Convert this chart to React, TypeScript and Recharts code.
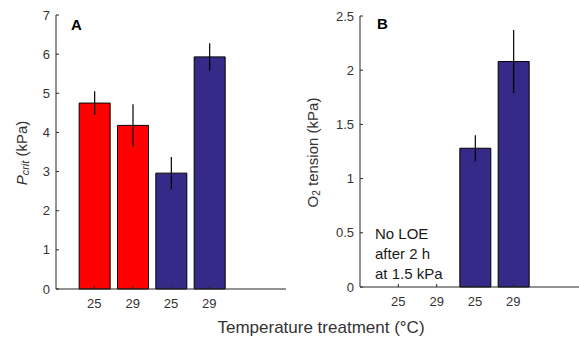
import { BarChart, Bar, XAxis, YAxis, ErrorBar, Cell } from 'recharts';

// panel A: Pcrit
const positionsA = [1, 2, 3, 4];
const pcritValues = [4.75, 4.18, 2.96, 5.93];
const pcritErrors = [0.3, 0.54, 0.41, 0.35];
const barColors = ['#ff0000', '#ff0000', '#352a87', '#352a87'];

// panel B: O2 tension at LOE (only last two groups)
const positionsB = [3, 4];
const o2Values = [1.28, 2.08];
const o2Errors = [0.12, 0.29];
const colorsB = ['#352a87', '#352a87'];

const tickLabels = ['25', '29', '25', '29'];
const yTicksA = [0, 1, 2, 3, 4, 5, 6, 7];
const yTicksB = [0, 0.5, 1, 1.5, 2, 2.5];

const dataA = positionsA.map((x, i) => ({ x, value: pcritValues[i], err: pcritErrors[i] }));
const dataB = positionsB.map((x, i) => ({ x, value: o2Values[i], err: o2Errors[i] }));

const FONT = '"Liberation Sans", Arial, sans-serif';
const AXIS = '#262626';
const tickStyle = { fill: '#333', fontSize: 13, fontFamily: FONT };

const fmtX = (v: number) => tickLabels[v - 1] ?? '';

const PcritLabel = (props: any) => {
  const { viewBox } = props;
  const cx = 21;
  const cy = viewBox.y + viewBox.height / 2 + 1;
  return (
    <text
      x={cx}
      y={cy}
      transform={`rotate(-90, ${cx}, ${cy})`}
      textAnchor="middle"
      dominantBaseline="central"
      fill="#333"
      fontFamily={FONT}
      fontSize={15}
    >
      <tspan fontStyle="italic">P</tspan>
      <tspan fontStyle="italic" fontSize={11} dy={4}>crit</tspan>
      <tspan dy={-4}> (kPa)</tspan>
    </text>
  );
};

const O2Label = (props: any) => {
  const { viewBox } = props;
  const cx = 22;
  const cy = viewBox.y + viewBox.height / 2 + 1;
  return (
    <text
      x={cx}
      y={cy}
      transform={`rotate(-90, ${cx}, ${cy})`}
      textAnchor="middle"
      dominantBaseline="central"
      fill="#333"
      fontFamily={FONT}
      fontSize={15}
    >
      <tspan>O</tspan>
      <tspan fontSize={10} dy={4}>2</tspan>
      <tspan dy={-4}> tension (kPa)</tspan>
    </text>
  );
};

export default function App() {
  return (
    <div
      style={{
        position: 'absolute',
        left: 0,
        top: 0,
        width: 579,
        height: 342,
        overflow: 'hidden',
        background: '#fff',
        fontFamily: FONT,
      }}
    >
      <div style={{ position: 'absolute', left: 0, top: 0 }}>
        <BarChart width={290} height={342} data={dataA} margin={{ top: 15, right: 4, left: 26, bottom: 23 }}>
          <XAxis
            dataKey="x"
            type="number"
            domain={[0, 6]}
            ticks={positionsA}
            tickFormatter={fmtX}
            stroke={AXIS}
            tick={tickStyle}
            tickSize={-3}
            tickMargin={13}
            height={30}
          />
          <YAxis
            type="number"
            domain={[0, 7]}
            ticks={yTicksA}
            stroke={AXIS}
            tick={tickStyle}
            tickSize={-3}
            tickMargin={9}
            width={30}
            label={<PcritLabel />}
          />
          <Bar dataKey="value" barSize={31} stroke="#000" strokeWidth={1} isAnimationActive={false}>
            {dataA.map((_, i) => (
              <Cell key={i} fill={barColors[i]} />
            ))}
            <ErrorBar dataKey="err" width={0} stroke="#000" strokeWidth={1.2} direction="y" />
          </Bar>
        </BarChart>
      </div>
      <div style={{ position: 'absolute', left: 290, top: 0 }}>
        <BarChart width={300} height={342} data={dataB} margin={{ top: 16, right: 0, left: 40, bottom: 25 }}>
          <XAxis
            dataKey="x"
            type="number"
            domain={[0, 6]}
            ticks={positionsA}
            tickFormatter={fmtX}
            stroke={AXIS}
            tick={tickStyle}
            tickSize={-3}
            tickMargin={13}
            height={30}
          />
          <YAxis
            type="number"
            domain={[0, 2.5]}
            ticks={yTicksB}
            stroke={AXIS}
            tick={tickStyle}
            tickSize={-3}
            tickMargin={9}
            width={30}
            label={<O2Label />}
          />
          <Bar dataKey="value" barSize={31} stroke="#000" strokeWidth={1} isAnimationActive={false}>
            {dataB.map((_, i) => (
              <Cell key={i} fill={colorsB[i]} />
            ))}
            <ErrorBar dataKey="err" width={0} stroke="#000" strokeWidth={1.2} direction="y" />
          </Bar>
        </BarChart>
      </div>
      <div style={{ position: 'absolute', left: 71, top: 16, fontWeight: 'bold', fontSize: 15, color: '#000' }}>A</div>
      <div style={{ position: 'absolute', left: 377, top: 15, fontWeight: 'bold', fontSize: 15, color: '#000' }}>B</div>
      <div
        style={{
          position: 'absolute',
          left: 375,
          top: 224,
          fontSize: 15,
          lineHeight: '20px',
          color: '#1a1a1a',
        }}
      >
        No LOE
        <br />
        after 2 h
        <br />
        at 1.5 kPa
      </div>
      <div
        style={{
          position: 'absolute',
          left: 0,
          width: 642,
          top: 318,
          textAlign: 'center',
          fontSize: 17,
          color: '#333',
        }}
      >
        Temperature treatment (°C)
      </div>
    </div>
  );
}
